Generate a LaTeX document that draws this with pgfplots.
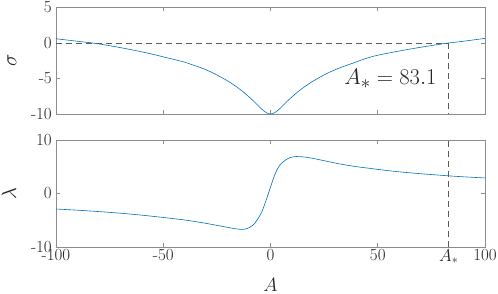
\documentclass[border=0pt]{standalone}
\usepackage{pgfplots}
\pgfplotsset{compat=1.18}
\definecolor{mblue}{RGB}{0,114,189}
\definecolor{axgray}{RGB}{140,140,140}
\definecolor{txt}{RGB}{38,38,38}
\definecolor{dgray}{RGB}{90,90,90}
\begin{document}
\begin{tikzpicture}
\pgfplotsset{
  myax/.style={
    scale only axis, width=429pt,
    xmin=-100, xmax=100,
    axis line style={axgray, line width=0.6pt},
    every tick/.style={axgray, line width=0.6pt},
    major tick length=4pt,
    tick align=inside,
    tick label style={font=\fontsize{17}{20}\selectfont, text=txt},
    xticklabel style={inner sep=2pt},
    yticklabel style={inner sep=4pt},
    clip=false,
  }
}
\begin{axis}[myax, name=top, at={(0,0)}, anchor=south west,
  height=106.5pt,
  ymin=-10, ymax=5,
  ytick={-10,-5,0,5}, yticklabels={-10,-5,0,5},
  xtick={-100,-50,0,50,100}, xticklabels={},
]
\node[rotate=90, anchor=center, inner sep=0pt, font=\fontsize{20.74}{24}\selectfont, text=txt] at (rel axis cs:-0.1026,0.5) {$\sigma$};
\addplot[dgray, line width=0.7pt, dash pattern=on 6pt off 4pt] coordinates {(-100,0) (83.1,0)};
\addplot[dgray, line width=0.7pt, dash pattern=on 6pt off 4pt] coordinates {(83.1,0) (83.1,-10)};
\addplot[mblue, line width=0.6pt, smooth] coordinates {
(-100,0.6) (-95,0.42) (-90,0.25) (-86.5,0.12) (-83,0) (-80,-0.13) (-75,-0.38) (-70,-0.65)
(-65,-0.94) (-60,-1.25) (-55,-1.58) (-50,-1.95) (-45,-2.32) (-40,-2.7)
(-36.5,-3.06) (-33,-3.42) (-30.5,-3.72) (-28,-4.05) (-26,-4.34) (-23.5,-4.74) (-21,-5.16)
(-19,-5.53) (-16.5,-6.03) (-14,-6.58) (-12,-7.06) (-10,-7.6) (-8,-8.15) (-6.4,-8.62)
(-4.5,-9.2) (-3,-9.58) (-2,-9.8) (-1,-9.95) (0,-10) (1,-9.95) (2,-9.8) (3,-9.58)
(4.5,-9.2) (6.4,-8.62) (8,-8.15) (10,-7.6) (12,-7.06) (14,-6.58) (16.5,-6.03) (19,-5.53)
(21,-5.16) (23.5,-4.74) (26,-4.34) (28,-4.05) (30.5,-3.72) (33,-3.42) (36.5,-3.04)
(40,-2.67) (43,-2.33) (46.4,-2.0) (50,-1.72) (55,-1.42) (60,-1.13) (65,-0.86) (70,-0.6)
(75,-0.36) (80,-0.13) (83.1,0) (86.5,0.12) (90,0.25) (95,0.45) (100,0.65)
};
\node[anchor=east, inner sep=0pt, scale=0.905, font=\fontsize{24.88}{28}\selectfont, text=txt] at (axis cs:77.5,-5.07) {$A_* = 83.1$};
\end{axis}
\begin{axis}[myax, name=bot, at={(0,-133pt)}, anchor=south west,
  height=107pt,
  ymin=-10, ymax=10,
  ytick={-10,0,10}, yticklabels={-10,0,10},
  xtick={-100,-50,0,50,83.1,100}, xticklabels={-100,-50,0,50,$A_*$,100},
  xlabel={$A$},
  xlabel style={at={(axis description cs:0.5,-0.29)}, anchor=north, inner sep=0pt, scale=0.93, font=\fontsize{20.74}{24}\selectfont, text=txt},
]
\node[rotate=90, anchor=center, inner sep=0pt, font=\fontsize{20.74}{24}\selectfont, text=txt] at (rel axis cs:-0.11,0.5) {$\lambda$};
\addplot[dgray, line width=0.7pt, dash pattern=on 6pt off 4pt] coordinates {(83.1,-10) (83.1,10)};
\addplot[mblue, line width=0.6pt, smooth] coordinates {
(-100,-2.9) (-90,-3.12) (-80,-3.38) (-70,-3.68) (-60,-4.05) (-50,-4.48) (-40,-4.95)
(-33,-5.38) (-28,-5.73) (-24,-6.03) (-20,-6.33) (-17,-6.55) (-14,-6.7) (-12,-6.66)
(-11,-6.56) (-10,-6.4) (-9,-6.15) (-8,-5.85) (-7,-5.4) (-6,-4.8) (-5,-4.15) (-4,-3.4)
(-3,-2.35) (-2,-1.2) (-1,0.0) (0,1.2) (1,2.4) (2,3.5) (3,4.4) (4,5.1) (5,5.6)
(6,5.95) (7,6.25) (8,6.5) (9,6.68) (10.5,6.85) (12,6.91) (13.7,6.9) (15,6.85)
(17,6.75) (20,6.55) (23,6.3) (28,5.88) (32.4,5.52) (40,5.02) (46.4,4.7) (50,4.5)
(60,4.05) (70,3.7) (83.1,3.3) (90,3.12) (100,2.9)
};
\end{axis}
\pgfresetboundingbox
\useasboundingbox (-56pt,-180pt) rectangle (442pt,114pt);
\end{tikzpicture}
\end{document}
